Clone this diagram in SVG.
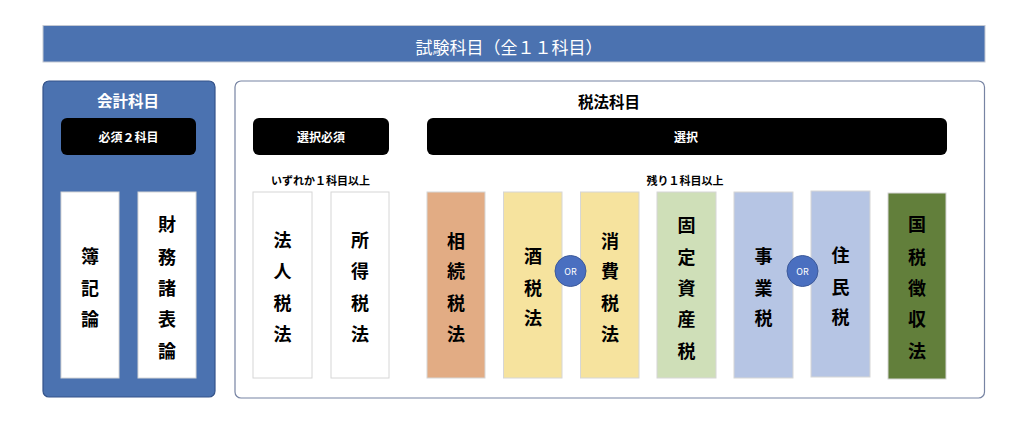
<svg xmlns="http://www.w3.org/2000/svg" width="1024" height="426" viewBox="0 0 1024 426">
<defs>
<style>
text{font-family:"Noto Sans CJK JP","Noto Sans",sans-serif;text-anchor:middle;dominant-baseline:central;}
.title{fill:#ffffff;font-size:17px;}
.hdr{font-size:15.5px;font-weight:700;}
.pill{fill:#000000;}
.pilltxt{fill:#ffffff;font-size:12px;font-weight:700;}
.note{fill:#000000;font-size:11px;font-weight:700;}
.col{stroke:#d6d6d6;stroke-width:1;}
.coltxt{fill:#000000;font-size:18px;font-weight:700;}
.or{fill:#4a6fc0;stroke:#3d5a9a;stroke-width:1;}
.ortxt{fill:#ffffff;font-size:9px;}
</style>
</defs>
<rect width="1024" height="426" fill="#ffffff"/>

<g id="banner">
<rect x="43" y="25.5" width="942" height="36.5" fill="#4b72b0" stroke="#c4c9d3" stroke-width="1"/>
<text class="title" x="509" y="46">試験科目（全１１科目）</text>
</g>

<g id="accounting-panel">
<rect x="43" y="81" width="172" height="316" rx="6" fill="#4b72b0" stroke="#34538a" stroke-width="1.2"/>
<text class="hdr" x="128" y="100" fill="#ffffff">会計科目</text>
</g>
<g id="required2">
<rect class="pill" x="61" y="118" width="135" height="37" rx="6"/>
<text class="pilltxt" x="128.5" y="136.5">必須２科目</text>
</g>
<g id="boki">
<rect class="col" x="61" y="192" width="58" height="186" fill="#ffffff"/>
<text class="coltxt"><tspan x="90" y="255">簿</tspan><tspan x="90" y="287">記</tspan><tspan x="90" y="318">論</tspan></text>
</g>
<g id="zaimu">
<rect class="col" x="138" y="192" width="58" height="186" fill="#ffffff"/>
<text class="coltxt"><tspan x="167" y="223">財</tspan><tspan x="167" y="256">務</tspan><tspan x="167" y="287">諸</tspan><tspan x="167" y="318">表</tspan><tspan x="167" y="350">論</tspan></text>
</g>

<g id="tax-panel">
<rect x="235" y="81" width="749.5" height="317" rx="6" fill="#ffffff" stroke="#7784a3" stroke-width="1.2"/>
<text class="hdr" x="609" y="101" fill="#000000">税法科目</text>
</g>
<g id="select-required">
<rect class="pill" x="253" y="118" width="136" height="37" rx="6"/>
<text class="pilltxt" x="321" y="136.5">選択必須</text>
<text class="note" x="320.5" y="180">いずれか１科目以上</text>
</g>
<g id="select">
<rect class="pill" x="427" y="118" width="520" height="37" rx="6"/>
<text class="pilltxt" x="686" y="136.5">選択</text>
<text class="note" x="685" y="180">残り１科目以上</text>
</g>

<g id="hojin">
<rect class="col" x="253" y="192" width="59" height="186" fill="#ffffff"/>
<text class="coltxt"><tspan x="282.5" y="239">法</tspan><tspan x="282.5" y="270">人</tspan><tspan x="282.5" y="302">税</tspan><tspan x="282.5" y="333">法</tspan></text>
</g>
<g id="shotoku">
<rect class="col" x="331" y="192" width="58" height="186" fill="#ffffff"/>
<text class="coltxt"><tspan x="360" y="239">所</tspan><tspan x="360" y="270">得</tspan><tspan x="360" y="302">税</tspan><tspan x="360" y="333">法</tspan></text>
</g>
<g id="sozoku">
<rect class="col" x="427" y="192" width="58" height="186" fill="#e2ac84"/>
<text class="coltxt"><tspan x="456" y="240">相</tspan><tspan x="456" y="270">続</tspan><tspan x="456" y="302">税</tspan><tspan x="456" y="333">法</tspan></text>
</g>
<g id="shuzei">
<rect class="col" x="503.5" y="192" width="58.5" height="186" fill="#f6e39e"/>
<text class="coltxt"><tspan x="533" y="255">酒</tspan><tspan x="533" y="287">税</tspan><tspan x="533" y="317">法</tspan></text>
</g>
<g id="shohi">
<rect class="col" x="580.5" y="192" width="58.5" height="186" fill="#f6e39e"/>
<text class="coltxt"><tspan x="610" y="240">消</tspan><tspan x="610" y="270">費</tspan><tspan x="610" y="302">税</tspan><tspan x="610" y="333">法</tspan></text>
</g>
<g id="kotei">
<rect class="col" x="657" y="192" width="59" height="186" fill="#cfdfb8"/>
<text class="coltxt"><tspan x="686.5" y="224">固</tspan><tspan x="686.5" y="256">定</tspan><tspan x="686.5" y="287">資</tspan><tspan x="686.5" y="318">産</tspan><tspan x="686.5" y="350">税</tspan></text>
</g>
<g id="jigyo">
<rect class="col" x="734" y="192" width="59" height="186" fill="#b6c5e4"/>
<text class="coltxt"><tspan x="763.5" y="255">事</tspan><tspan x="763.5" y="287">業</tspan><tspan x="763.5" y="317">税</tspan></text>
</g>
<g id="jumin">
<rect class="col" x="811" y="191" width="59" height="186" fill="#b6c5e4"/>
<text class="coltxt"><tspan x="840.5" y="254">住</tspan><tspan x="840.5" y="286">民</tspan><tspan x="840.5" y="316">税</tspan></text>
</g>
<g id="kokuzei">
<rect class="col" x="888" y="193" width="58" height="186" fill="#627f3b"/>
<text class="coltxt"><tspan x="917" y="223">国</tspan><tspan x="917" y="256">税</tspan><tspan x="917" y="287">徴</tspan><tspan x="917" y="318">収</tspan><tspan x="917" y="350">法</tspan></text>
</g>

<g id="or1">
<circle class="or" cx="570.5" cy="271" r="15.5"/>
<text class="ortxt" x="570.5" y="271.5">OR</text>
</g>
<g id="or2">
<circle class="or" cx="802.5" cy="271" r="15.5"/>
<text class="ortxt" x="802.5" y="271.5">OR</text>
</g>

<g id="connectors"></g>
</svg>
